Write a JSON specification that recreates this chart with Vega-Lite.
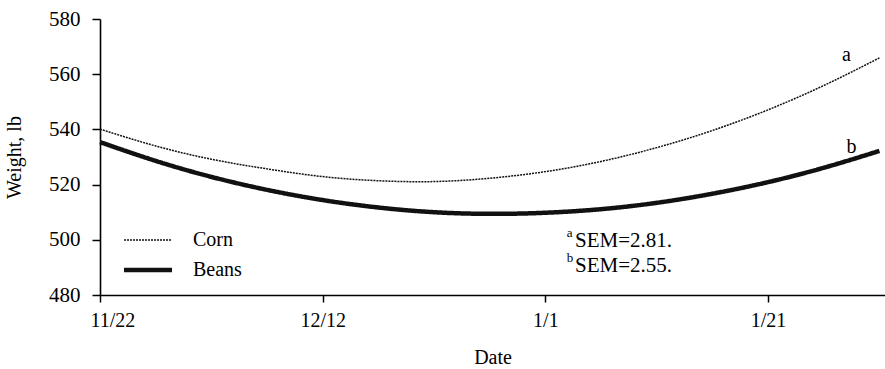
{
  "$schema": "https://vega.github.io/schema/vega-lite/v6.json",
  "width": 785,
  "height": 276,
  "autosize": {"type": "none"},
  "padding": {"left": 100, "top": 19, "right": 0, "bottom": 74},
  "background": "white",
  "config": {
    "view": {"stroke": null},
    "font": "Liberation Serif",
    "axis": {
      "grid": false,
      "domainColor": "#000",
      "domainWidth": 1.6,
      "tickColor": "#000",
      "tickWidth": 1.5,
      "labelColor": "#000",
      "labelFont": "Liberation Serif",
      "labelFontSize": 20,
      "titleColor": "#000",
      "titleFont": "Liberation Serif",
      "titleFontSize": 20,
      "titleFontWeight": "normal"
    },
    "legend": {
      "labelFont": "Liberation Serif",
      "labelFontSize": 20,
      "labelColor": "#000"
    }
  },
  "datasets": {
    "weights": [
      {"date": "2000-11-22T00:00:00", "crop": "Corn", "weight": 540.1},
      {"date": "2000-11-27T00:00:00", "crop": "Corn", "weight": 534.0},
      {"date": "2000-12-02T00:00:00", "crop": "Corn", "weight": 529.2},
      {"date": "2000-12-07T00:00:00", "crop": "Corn", "weight": 525.7},
      {"date": "2000-12-12T00:00:00", "crop": "Corn", "weight": 522.9},
      {"date": "2000-12-17T00:00:00", "crop": "Corn", "weight": 521.4},
      {"date": "2000-12-22T00:00:00", "crop": "Corn", "weight": 521.1},
      {"date": "2000-12-27T00:00:00", "crop": "Corn", "weight": 522.3},
      {"date": "2001-01-01T00:00:00", "crop": "Corn", "weight": 524.7},
      {"date": "2001-01-06T00:00:00", "crop": "Corn", "weight": 528.4},
      {"date": "2001-01-11T00:00:00", "crop": "Corn", "weight": 533.4},
      {"date": "2001-01-16T00:00:00", "crop": "Corn", "weight": 539.6},
      {"date": "2001-01-21T00:00:00", "crop": "Corn", "weight": 547.1},
      {"date": "2001-01-26T00:00:00", "crop": "Corn", "weight": 555.9},
      {"date": "2001-01-31T00:00:00", "crop": "Corn", "weight": 565.9},
      {"date": "2000-11-22T00:00:00", "crop": "Beans", "weight": 535.4},
      {"date": "2000-11-27T00:00:00", "crop": "Beans", "weight": 528.6},
      {"date": "2000-12-02T00:00:00", "crop": "Beans", "weight": 522.8},
      {"date": "2000-12-07T00:00:00", "crop": "Beans", "weight": 518.1},
      {"date": "2000-12-12T00:00:00", "crop": "Beans", "weight": 514.4},
      {"date": "2000-12-17T00:00:00", "crop": "Beans", "weight": 511.7},
      {"date": "2000-12-22T00:00:00", "crop": "Beans", "weight": 510.0},
      {"date": "2000-12-27T00:00:00", "crop": "Beans", "weight": 509.4},
      {"date": "2001-01-01T00:00:00", "crop": "Beans", "weight": 509.8},
      {"date": "2001-01-06T00:00:00", "crop": "Beans", "weight": 511.1},
      {"date": "2001-01-11T00:00:00", "crop": "Beans", "weight": 513.4},
      {"date": "2001-01-16T00:00:00", "crop": "Beans", "weight": 516.7},
      {"date": "2001-01-21T00:00:00", "crop": "Beans", "weight": 520.9},
      {"date": "2001-01-26T00:00:00", "crop": "Beans", "weight": 526.1},
      {"date": "2001-01-31T00:00:00", "crop": "Beans", "weight": 532.2}
    ],
    "curveLabels": [
      {"date": "2001-01-28T01:00:00", "weight": 567.0, "label": "a"},
      {"date": "2001-01-28T12:00:00", "weight": 533.6, "label": "b"}
    ],
    "semNotes": [
      {"date": "2001-01-03T16:00:00", "weight": 499.6, "label": "SEM=2.81."},
      {"date": "2001-01-03T16:00:00", "weight": 490.5, "label": "SEM=2.55."}
    ],
    "semMarks": [
      {"date": "2001-01-02T22:00:00", "weight": 500.9, "label": "a"},
      {"date": "2001-01-02T22:00:00", "weight": 491.8, "label": "b"}
    ]
  },
  "layer": [
    {
      "data": {"name": "weights"},
      "mark": {"type": "line", "interpolate": "natural", "stroke": "#111", "strokeCap": "butt"},
      "encoding": {
        "x": {
          "field": "date",
          "type": "temporal",
          "scale": {
            "domain": [
              {"year": 2000, "month": 11, "date": 22},
              {"year": 2001, "month": 1, "date": 31, "hours": 12}
            ]
          },
          "axis": {
            "title": "Date",
            "values": [
              {"year": 2000, "month": 11, "date": 22},
              {"year": 2000, "month": 12, "date": 12},
              {"year": 2001, "month": 1, "date": 1},
              {"year": 2001, "month": 1, "date": 21}
            ],
            "format": "%-m/%-d",
            "tickSize": 7,
            "labelPadding": 8,
            "labelFlush": 1,
            "labelFlushOffset": 10,
            "titlePadding": 17
          }
        },
        "y": {
          "field": "weight",
          "type": "quantitative",
          "scale": {"domain": [480, 580], "nice": false, "zero": false},
          "axis": {
            "title": "Weight, lb",
            "values": [480, 500, 520, 540, 560, 580],
            "labelFontSize": 21,
            "tickSize": 8,
            "labelPadding": 12,
            "titlePadding": 24
          }
        },
        "strokeDash": {
          "field": "crop",
          "type": "nominal",
          "scale": {"domain": ["Corn", "Beans"], "range": [[2, 1], [1, 0]]},
          "legend": {
            "title": null,
            "orient": "none",
            "legendX": 38,
            "legendY": 211,
            "symbolType": "M-4,0H4",
            "symbolSize": 144,
            "symbolStrokeColor": "#111",
            "labelOffset": 35,
            "rowPadding": 10,
            "padding": 0,
            "encode": {
              "symbols": {
                "update": {
                  "strokeDash": [
                    {"test": "datum.value === 'Corn'", "value": [2, 7]},
                    {"value": [1, 0]}
                  ]
                }
              }
            }
          }
        },
        "strokeWidth": {
          "field": "crop",
          "type": "nominal",
          "scale": {"domain": ["Corn", "Beans"], "range": [1.5, 4.5]},
          "legend": null
        }
      }
    },
    {
      "data": {"name": "curveLabels"},
      "mark": {"type": "text", "fontSize": 20, "font": "Liberation Serif", "align": "center", "baseline": "middle", "color": "#000"},
      "encoding": {
        "x": {"field": "date", "type": "temporal"},
        "y": {"field": "weight", "type": "quantitative"},
        "text": {"field": "label"}
      }
    },
    {
      "data": {"name": "semNotes"},
      "mark": {"type": "text", "fontSize": 21, "font": "Liberation Serif", "align": "left", "baseline": "middle", "color": "#000"},
      "encoding": {
        "x": {"field": "date", "type": "temporal"},
        "y": {"field": "weight", "type": "quantitative"},
        "text": {"field": "label"}
      }
    },
    {
      "data": {"name": "semMarks"},
      "mark": {"type": "text", "fontSize": 13, "font": "Liberation Serif", "align": "left", "baseline": "alphabetic", "color": "#000"},
      "encoding": {
        "x": {"field": "date", "type": "temporal"},
        "y": {"field": "weight", "type": "quantitative"},
        "text": {"field": "label"}
      }
    }
  ]
}
